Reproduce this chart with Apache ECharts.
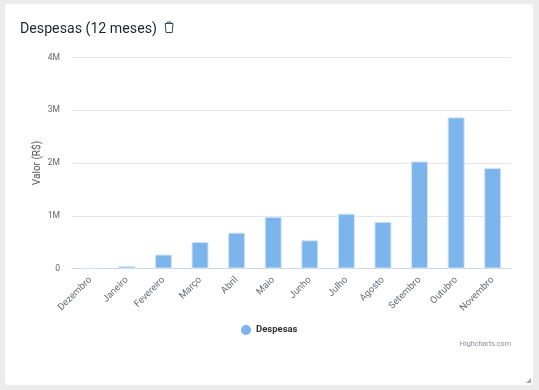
<!DOCTYPE html>
<html><head><meta charset="utf-8">
<script src="https://cdn.jsdelivr.net/npm/echarts@6/dist/echarts.min.js"></script>
<style>
html,body{margin:0;padding:0;width:539px;height:390px;background:#ececec;overflow:hidden}
#card{position:absolute;left:5px;top:4px;width:528px;height:381px;background:#fff;border-radius:4px}
#main{position:absolute;left:0;top:0;width:539px;height:390px}
</style></head><body>
<div id="card"></div>
<div id="main"></div>
<script>
const categories=["Dezembro","Janeiro","Fevereiro","Março","Abril","Maio","Junho","Julho","Agosto","Setembro","Outubro","Novembro"];
const despesas=[0,45000,265000,505000,680000,980000,535000,1040000,885000,2030000,2865000,1905000];
const yTicks={0:"0",1000000:"1M",2000000:"2M",3000000:"3M",4000000:"4M"};
const font="Roboto,'Noto Sans',sans-serif";
const chart=echarts.init(document.getElementById('main'),null,{renderer:'canvas'});
chart.setOption({
 animation:false,
 backgroundColor:'transparent',
 title:[
  {text:"Despesas (12 meses)",left:20,top:22,padding:0,textStyle:{fontFamily:font,fontSize:14.2,fontWeight:400,color:'#1f2530'}},
  {text:"Highcharts.com",right:28,top:341,padding:0,textStyle:{fontFamily:font,fontSize:7.2,fontWeight:400,color:'#8b8f96'}}
 ],
 legend:{show:true,data:[{name:"Despesas",icon:'circle',itemStyle:{borderWidth:0}}],left:236,top:320,itemWidth:10,itemHeight:10,itemGap:5,
  textStyle:{fontFamily:font,fontSize:9.5,fontWeight:700,color:'#333333'}},
 grid:{left:72,right:28,top:57.5,bottom:121.5,containLabel:false},
 xAxis:{type:'category',data:categories,
  axisLine:{lineStyle:{color:'#ccd6eb',width:1}},axisTick:{show:false},
  axisLabel:{interval:0,rotate:45,margin:10,fontFamily:font,fontSize:9.5,color:'#666a75'}},
 yAxis:{type:'value',min:0,max:4000000,interval:1000000,
  name:"Valor (R$)",nameLocation:'middle',nameGap:30,nameMoveOverlap:false,nameTextStyle:{fontFamily:font,fontSize:10,color:'#555555'},
  splitLine:{lineStyle:{color:'#e6e6f2',width:1}},axisLine:{show:false},axisTick:{show:false},
  axisLabel:{formatter:v=>yTicks[v],margin:12,fontFamily:font,fontSize:8.5,color:'#666666'}},
 series:[{name:"Despesas",type:'bar',data:despesas,barWidth:17,
  itemStyle:{color:'#7cb5ec',borderColor:'#d4e5f9',borderWidth:1}}],
 graphic:[
  {type:'polyline',left:162.5,top:19.5,silent:true,
   shape:{points:[[0,2],[8,2],[7.2,11],[1,11],[0.2,2],[2,2],[2.4,0.5],[5.8,0.5],[6.2,2]]},
   style:{fill:'none',stroke:'#3a4a5c',lineWidth:1}},
  {type:'polygon',right:8,bottom:7,silent:true,
   shape:{points:[[5,0],[5,5],[0,5]]},style:{fill:'#a8a8a8'}}
 ]
});
</script>
</body></html>
